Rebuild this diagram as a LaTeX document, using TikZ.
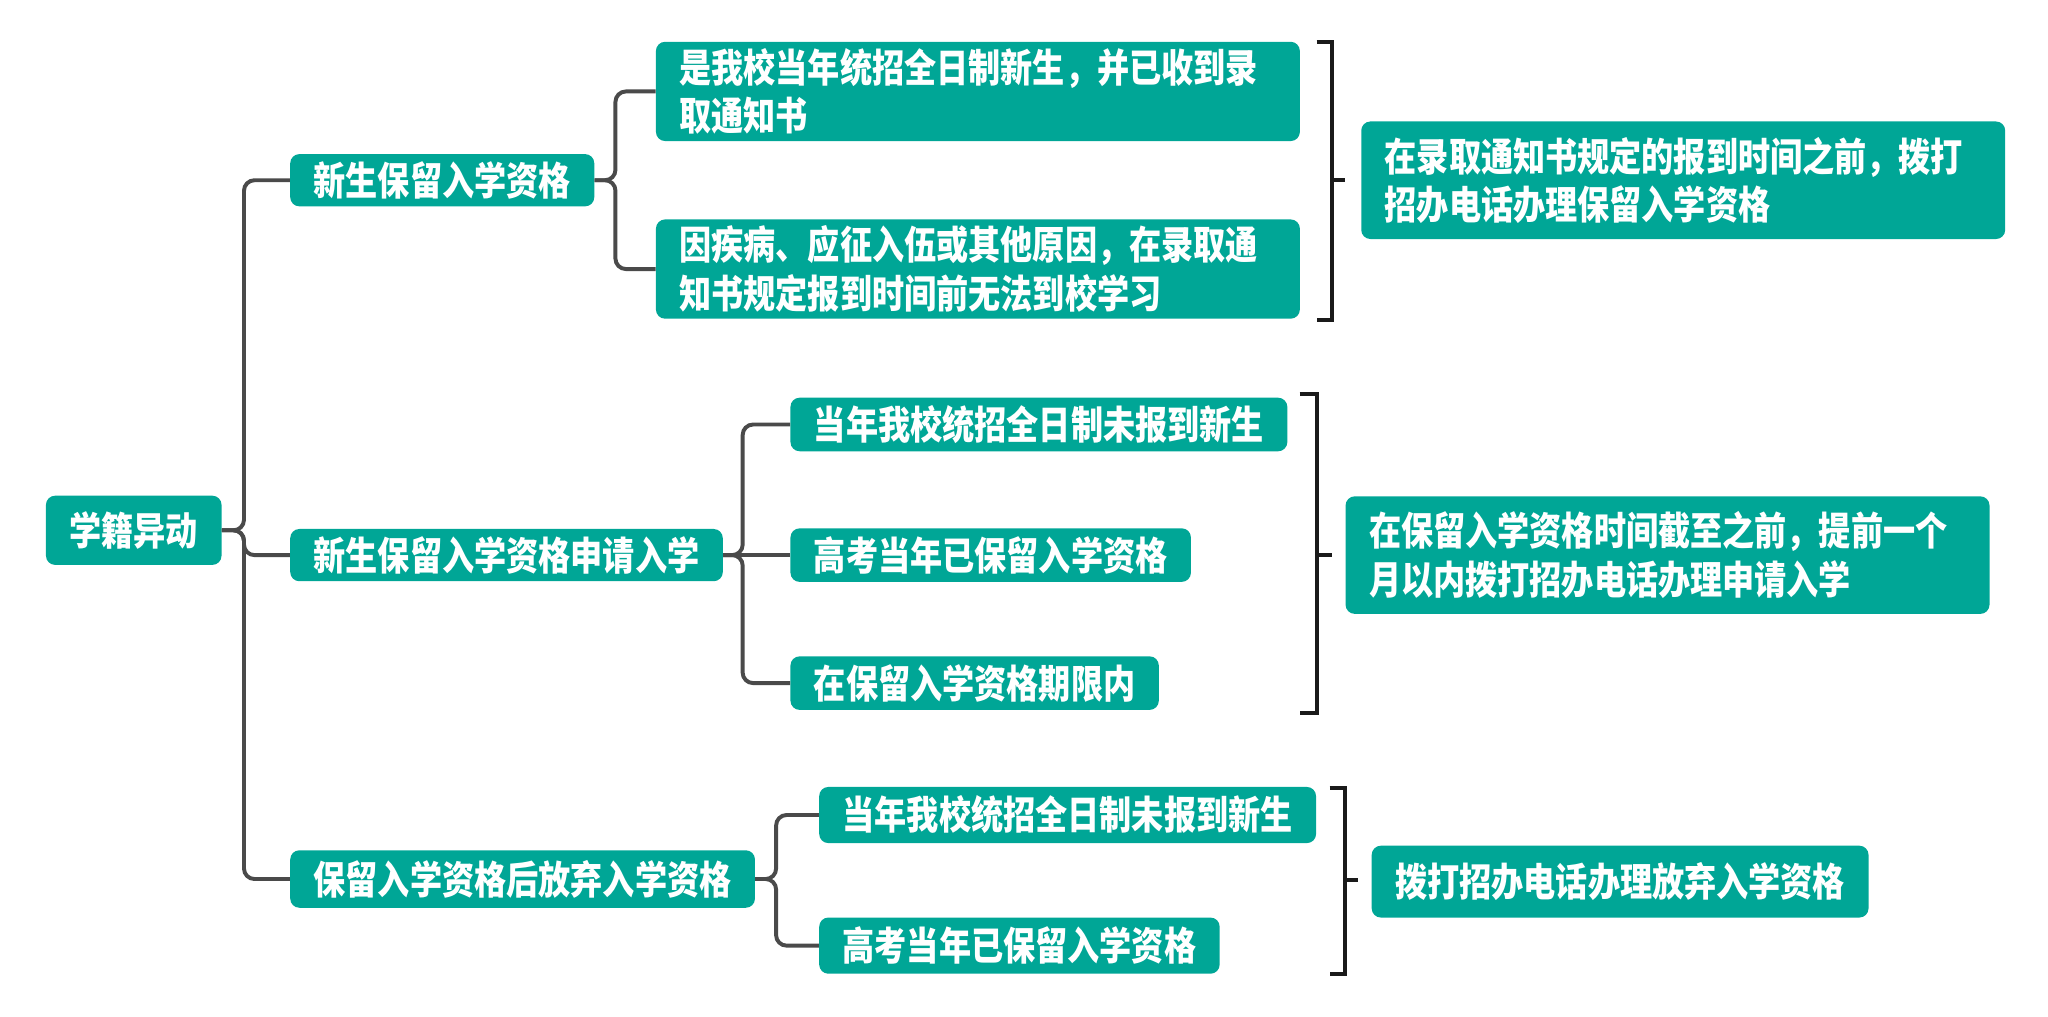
\documentclass[tikz,border=0pt]{standalone}
\usepackage{fontspec}
\newfontfamily\cjk[FakeStretch=0.82]{Noto Sans CJK SC}
\usetikzlibrary{positioning}
\definecolor{mapteal}{RGB}{0,166,150}
\definecolor{maplink}{RGB}{74,74,74}
\definecolor{mapbrace}{RGB}{26,26,26}

\tikzset{
  box/.style={fill=mapteal, text=white, rounded corners=7pt, anchor=west,
    inner xsep=18pt, inner ysep=0pt, align=left,
    font=\cjk\bfseries\fontsize{30}{37}\selectfont},
  wide/.style={box, text width=457pt},
  link/.style={draw=maplink, line width=3pt, rounded corners=8pt},
  brace/.style={draw=mapbrace, line width=3pt}
}

\begin{document}
\begin{tikzpicture}[x=1pt,y=-1pt]
  \useasboundingbox (0,0) rectangle (1568,778);

  % root and first level
  \node[box, minimum height=53pt] (root) at (35,406) {学籍异动};
  \node[box, minimum height=40pt] (keep) at (222,138) {新生保留入学资格};
  \node[box, minimum height=40pt] (apply) at (222,425) {新生保留入学资格申请入学};
  \node[box, minimum height=44pt] (quit) at (222,673) {保留入学资格后放弃入学资格};

  % conditions
  \node[wide, minimum height=76pt] (keep1) at (502,70)
    {是我校当年统招全日制新生，并已收到录\\取通知书};
  \node[wide, minimum height=76pt] (keep2) at (502,206)
    {因疾病、应征入伍或其他原因，在录取通\\知书规定报到时间前无法到校学习};
  \node[box, minimum height=41pt] (apply1) at (605,325) {当年我校统招全日制未报到新生};
  \node[box, minimum height=41pt] (apply2) at (605,425) {高考当年已保留入学资格};
  \node[box, minimum height=41pt] (apply3) at (605,523) {在保留入学资格期限内};
  \node[box, minimum height=43pt] (quit1) at (627,624) {当年我校统招全日制未报到新生};
  \node[box, minimum height=43pt] (quit2) at (627,724) {高考当年已保留入学资格};

  % results
  \node[wide, minimum height=90pt] (keepres) at (1042,138)
    {在录取通知书规定的报到时间之前，拨打\\招办电话办理保留入学资格};
  \node[wide, minimum height=90pt] (applyres) at (1030,425)
    {在保留入学资格时间截至之前，提前一个\\月以内拨打招办电话办理申请入学};
  \node[box, minimum height=55pt] (quitres) at (1050,675) {拨打招办电话办理放弃入学资格};

  % tree lines
  \foreach \child in {keep,apply,quit}
    \draw[link] (root.east) -- ++(17,0) |- (\child.west);
  \foreach \child in {keep1,keep2}
    \draw[link] (keep.east) -- ++(16,0) |- (\child.west);
  \foreach \child in {apply1,apply3}
    \draw[link] (apply.east) -- ++(15,0) |- (\child.west);
  \draw[link] (apply.east) -- (apply2.west);
  \foreach \child in {quit1,quit2}
    \draw[link] (quit.east) -- ++(16,0) |- (\child.west);

  % brackets
  \draw[brace] (1008,32) -- (1020,32) -- (1020,245) -- (1008,245);
  \draw[brace] (1020,138) -- (1030,138);
  \draw[brace] (995,302) -- (1008,302) -- (1008,546) -- (995,546);
  \draw[brace] (1008,425) -- (1020,425);
  \draw[brace] (1018,603) -- (1030,603) -- (1030,746) -- (1018,746);
  \draw[brace] (1030,674) -- (1040,674);
\end{tikzpicture}
\end{document}
